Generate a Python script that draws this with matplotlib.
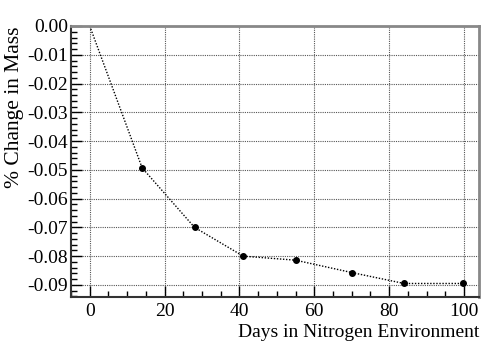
import numpy as np
import matplotlib.pyplot as plt
from matplotlib.ticker import MultipleLocator, FormatStrFormatter

days = [0, 14, 28, 41, 55, 70, 84, 99.6]
mass_change = [0.0, -0.0493, -0.0700, -0.0800, -0.0814, -0.0857, -0.0895, -0.0895]

plt.rcParams['font.family'] = ['Liberation Serif', 'DejaVu Serif']
plt.rcParams['axes.unicode_minus'] = False

fig = plt.figure(figsize=(4.82, 3.46), dpi=100)
ax = fig.add_axes([71 / 482, 1 - 297 / 346, (479 - 71) / 482, (297 - 26) / 346])

ax.plot(days, mass_change, color='black', linestyle=(0, (1, 1.2)), linewidth=1.0)
ax.plot(days[1:], mass_change[1:], 'o', color='black', markersize=4, linestyle='none')

ax.set_xlim(-5, 104)
ax.set_ylim(-0.0942, 0.0)

ax.xaxis.set_major_locator(MultipleLocator(20))
ax.xaxis.set_minor_locator(MultipleLocator(5))
ax.yaxis.set_major_locator(MultipleLocator(0.01))
ax.yaxis.set_minor_locator(MultipleLocator(0.002))
ax.yaxis.set_major_formatter(FormatStrFormatter('%.2f'))

ax.grid(True, which='major', color='#555555', linestyle=(0, (1, 1)), linewidth=0.8)

ax.tick_params(which='both', direction='in', top=False, right=False, labelsize=14, colors='black')
ax.tick_params(which='major', length=8, width=1)
ax.tick_params(which='minor', length=4, width=1)
ax.tick_params(axis='x', pad=4)
ax.tick_params(axis='y', pad=2)

for s in ['left', 'bottom']:
    ax.spines[s].set_color('#333333')
    ax.spines[s].set_linewidth(1.5)
for s in ['top', 'right']:
    ax.spines[s].set_color('#888888')
    ax.spines[s].set_linewidth(2)

ax.set_xlabel('Days in Nitrogen Environment', fontsize=14, loc='right', labelpad=3)
ax.set_ylabel('% Change in Mass', fontsize=15.5, loc='top', labelpad=2.5)

fig.savefig('out.png', dpi=100)
